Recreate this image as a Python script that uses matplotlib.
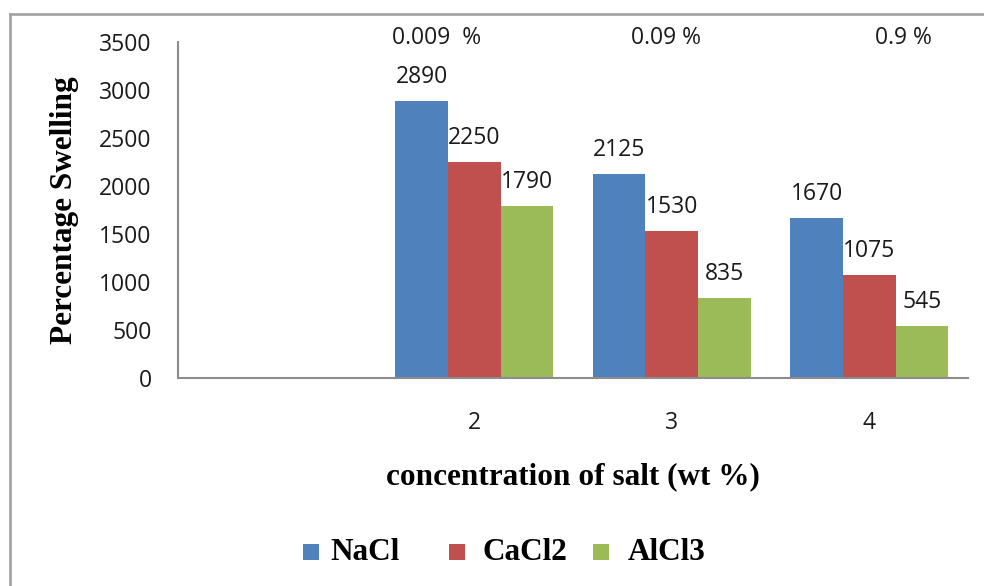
import matplotlib
matplotlib.use("Agg")
import matplotlib.pyplot as plt
import numpy as np
from matplotlib.lines import Line2D
from matplotlib.patches import Rectangle

# data
categories = ["", "2", "3", "4"]
salts = ["NaCl", "CaCl2", "AlCl3"]
nacl = [np.nan, 2890, 2125, 1670]
cacl2 = [np.nan, 2250, 1530, 1075]
alcl3 = [np.nan, 1790, 835, 545]
conc_labels = ["0.009  %", "0.09 %", "0.9 %"]
y_ticks = [0, 500, 1000, 1500, 2000, 2500, 3000, 3500]

colors = ["#4F81BD", "#C0504D", "#9BBB59"]
tick_font = "Open Sans"
serif = "Liberation Serif"
W, H = 984, 586

fig = plt.figure(figsize=(W / 100, H / 100), dpi=100)
ax = fig.add_axes([178 / W, 1 - 378 / H, 790 / W, 336 / H])

x = np.arange(len(categories))
width = 0.8 / 3
for i, (name, vals) in enumerate(zip(salts, [nacl, cacl2, alcl3])):
    pos = x + (i - 1) * width
    ax.bar(pos, vals, width=width, color=colors[i], label=name, zorder=2)
    for px, v in zip(pos, vals):
        if np.isnan(v):
            continue
        ax.annotate(f"{v:.0f}", (px, v), xytext=(0, 8.5), textcoords="offset points",
                    ha="center", va="bottom", fontsize=16.5, family=tick_font,
                    color="#1a1a1a")

ax.set_xlim(-0.5, len(categories) - 0.5)
ax.set_ylim(0, 3500)
ax.set_yticks(y_ticks)
ax.set_xticks(x)
ax.set_xticklabels(categories)
for lab in ax.get_xticklabels() + ax.get_yticklabels():
    lab.set_family(tick_font)
    lab.set_fontsize(16.5)
    lab.set_color("#1a1a1a")
ax.tick_params(axis="y", length=0, pad=19)
ax.tick_params(axis="x", length=0, pad=24)
for s in ("top", "right"):
    ax.spines[s].set_visible(False)
for s in ("left", "bottom"):
    ax.spines[s].set_color("#8c8c8c")
    ax.spines[s].set_linewidth(1.5)

fig.text(65 / W, 1 - 210 / H, "Percentage Swelling", family=serif, fontweight="bold",
         fontsize=22.5, rotation=90, ha="center", va="center")
fig.text(573 / W, 1 - 477 / H, "concentration of salt (wt %)", family=serif,
         fontweight="bold", fontsize=22.5, ha="center", va="center")

# concentration notes above the groups
for xc, txt in zip([437, 666, 903], conc_labels):
    fig.text(xc / W, 1 - 38 / H, txt, family=tick_font, fontsize=16.5,
             ha="center", va="center", color="#1a1a1a")

# legend drawn by hand to match the spacing of the original
for xs, xt, c, name in zip([303, 449, 593], [330, 483, 628], colors, salts):
    fig.add_artist(Rectangle((xs / W, 1 - 560 / H), 16 / W, 16 / H,
                             transform=fig.transFigure, facecolor=c, edgecolor="none"))
    fig.text(xt / W, 1 - 553 / H, name, family=serif, fontweight="bold",
             fontsize=22.5, ha="left", va="center")

# outer chart border (left and top edges visible)
fig.add_artist(Line2D([10 / W, 10 / W], [0, 1 - 14 / H], transform=fig.transFigure,
                      color="#a6a6a6", linewidth=2))
fig.add_artist(Line2D([10 / W, 1], [1 - 14 / H, 1 - 14 / H], transform=fig.transFigure,
                      color="#a6a6a6", linewidth=2))

fig.savefig("out.png", dpi=100)
